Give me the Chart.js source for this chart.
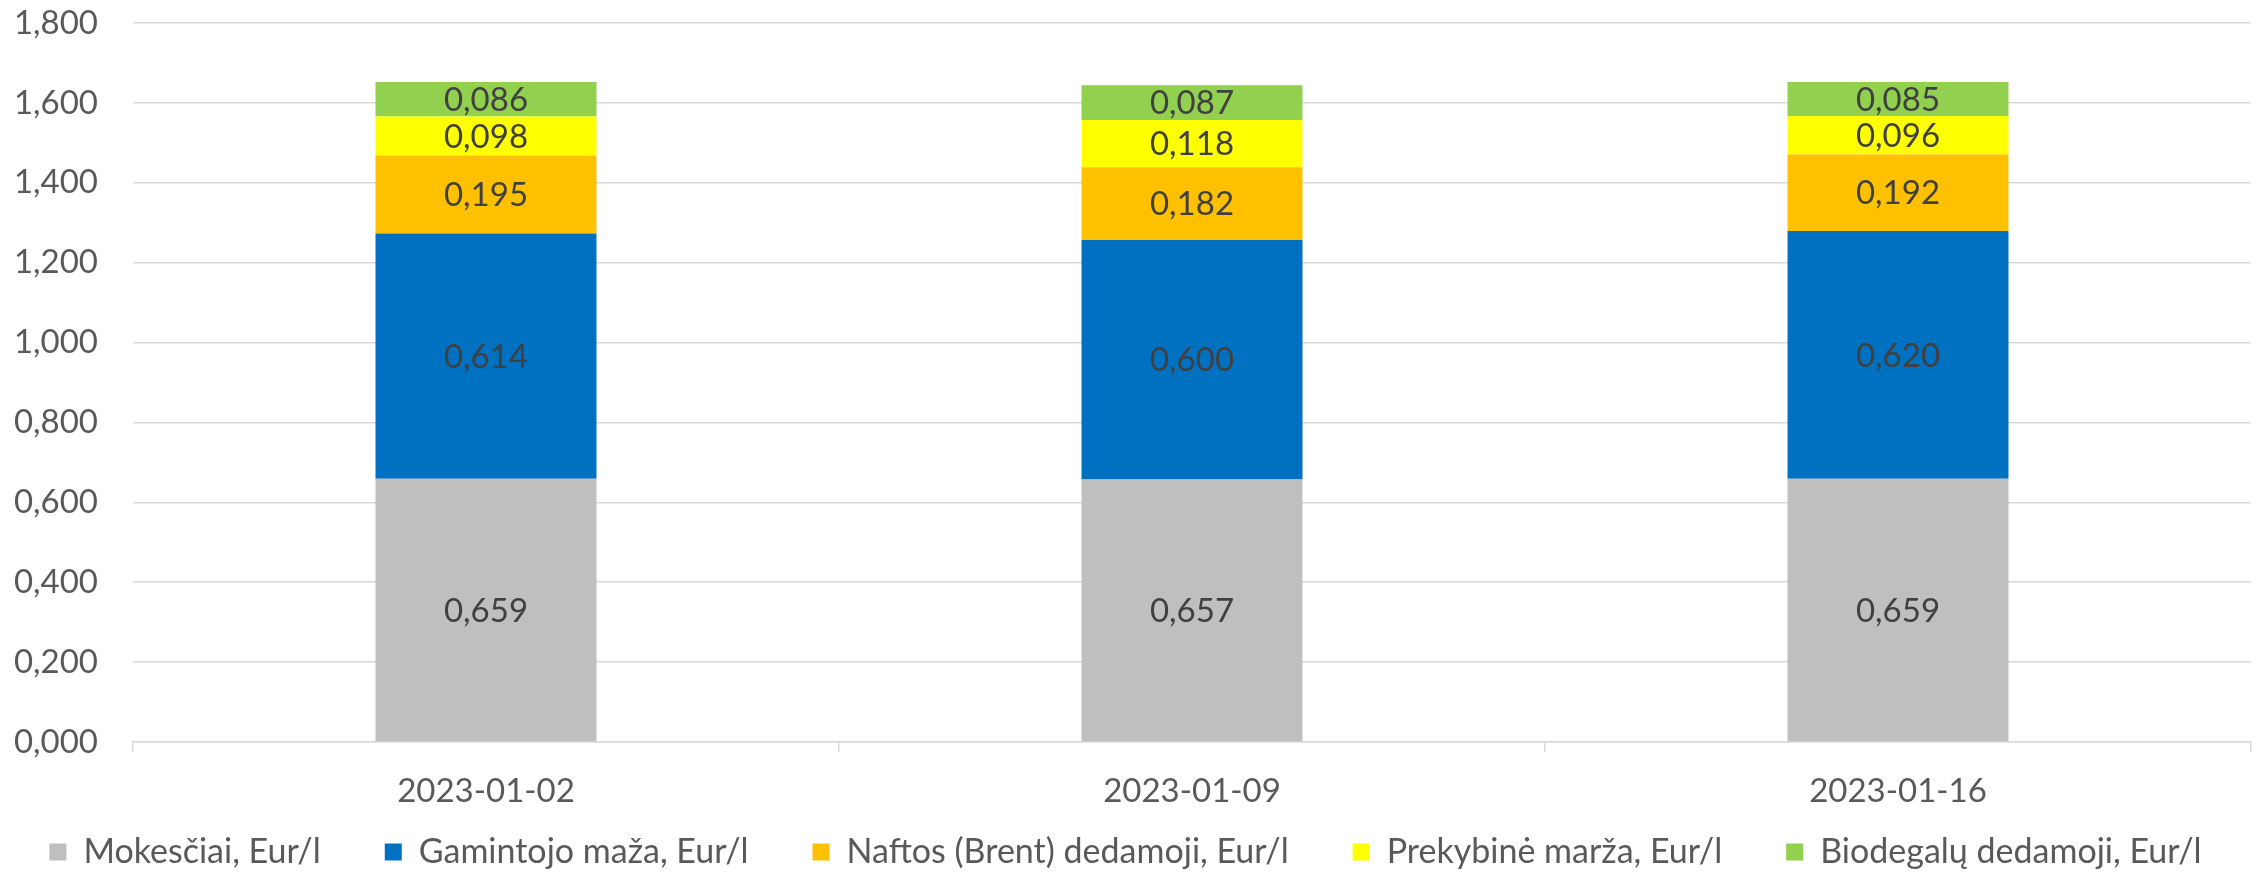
<!DOCTYPE html>
<html>
<head>
<meta charset="utf-8">
<script src="https://cdn.jsdelivr.net/npm/chart.js@4"></script>
<style>
  html, body { margin: 0; padding: 0; background: #fff; }
  #wrap { width: 2261px; height: 872px; }
</style>
</head>
<body>
<div id="wrap"><canvas id="kainos"></canvas></div>
<script>
const dates = ["2023-01-02", "2023-01-09", "2023-01-16"];
const mokesciai = [0.659, 0.657, 0.659];
const gamintojo = [0.614, 0.600, 0.620];
const naftos = [0.195, 0.182, 0.192];
const prekybine = [0.098, 0.118, 0.096];
const biodegalu = [0.086, 0.087, 0.085];

const seriesNames = ["Mokesčiai, Eur/l", "Gamintojo maža, Eur/l", "Naftos (Brent) dedamoji, Eur/l", "Prekybinė marža, Eur/l", "Biodegalų dedamoji, Eur/l"];
const seriesColors = ["#BFBFBF", "#0070C0", "#FFC000", "#FFFF00", "#92D050"];
const seriesValues = [mokesciai, gamintojo, naftos, prekybine, biodegalu];

const FONT = "Lato";
const FS = 33;
const LEGEND_FS = 34;
const LEGEND_GAP = 64;   // tarpas tarp legendos elementu
const LEGEND_H = 64;
const EXTRA = 200;       // kad legenda tilptu i viena eilute
const fmt = v => Number(v).toFixed(3).replace(".", ",");

// uzrasai ant stulpeliu
const barLabels = {
  id: "barLabels",
  afterDatasetsDraw(chart) {
    const ctx = chart.ctx;
    ctx.save();
    ctx.font = FS + "px " + FONT;
    ctx.fillStyle = "#404040";
    ctx.textAlign = "center";
    ctx.textBaseline = "middle";
    chart.data.datasets.forEach((ds, i) => {
      const meta = chart.getDatasetMeta(i);
      meta.data.forEach((bar, j) => {
        const p = bar.getProps(["x", "y", "base"], true);
        ctx.fillText(fmt(ds.data[j]), p.x, (p.y + p.base) / 2 + 1);
      });
    });
    ctx.restore();
  }
};

// legenda: viena eilute, platus tarpai horizontaliai, bet ne vertikaliai
const legendTrim = {
  id: "legendTrim",
  afterInit(chart) {
    const lg = chart.legend;
    if (!lg) return;
    const fit0 = lg.fit.bind(lg);
    const draw0 = lg.draw.bind(lg);
    lg.fit = function () {
      const mw = this.maxWidth;
      this.maxWidth = mw + 2 * EXTRA;
      fit0();
      this.maxWidth = mw;
      this.width = Math.min(this.width, mw);
      this.height = LEGEND_H;
    };
    lg.draw = function () {
      const t = this.top, l = this.left, r = this.right;
      this.top = this.bottom - LEGEND_FS - 3 - LEGEND_GAP;
      this.left = l - EXTRA;
      this.right = r + EXTRA;
      draw0();
      this.top = t; this.left = l; this.right = r;
    };
  }
};

const ctx = document.getElementById("kainos").getContext("2d");
new Chart(ctx, {
  type: "bar",
  data: {
    labels: dates,
    datasets: seriesNames.map((name, i) => ({
      label: name,
      data: seriesValues[i],
      backgroundColor: seriesColors[i],
      borderWidth: 0,
      categoryPercentage: 1,
      barPercentage: 0.313
    }))
  },
  options: {
    responsive: true,
    maintainAspectRatio: false,
    animation: false,
    layout: { padding: { left: 0, right: 10, top: 23, bottom: 0 } },
    plugins: {
      tooltip: { enabled: false },
      legend: {
        position: "bottom",
        labels: {
          font: { family: FONT, size: LEGEND_FS },
          color: "#595959",
          boxWidth: 17,
          boxHeight: 17,
          padding: LEGEND_GAP
        }
      }
    },
    scales: {
      x: {
        stacked: true,
        afterFit: s => { s.height = 66; },
        grid: {
          offset: true,
          drawOnChartArea: false,
          drawTicks: true,
          tickLength: 10,
          color: "#D9D9D9",
          lineWidth: 1.5
        },
        border: { color: "#D9D9D9", width: 1.5 },
        ticks: {
          font: { family: FONT, size: FS },
          color: "#595959",
          padding: 20
        }
      },
      y: {
        stacked: true,
        min: 0,
        max: 1.8,
        afterFit: s => { s.width = 133; s.paddingTop = 0; s.paddingBottom = 0; },
        grid: { color: "#D9D9D9", lineWidth: 1.5, drawTicks: false },
        border: { display: false },
        ticks: {
          stepSize: 0.2,
          font: { family: FONT, size: FS },
          color: "#595959",
          padding: 35,
          callback: v => fmt(v)
        }
      }
    }
  },
  plugins: [barLabels, legendTrim]
});
</script>
</body>
</html>
